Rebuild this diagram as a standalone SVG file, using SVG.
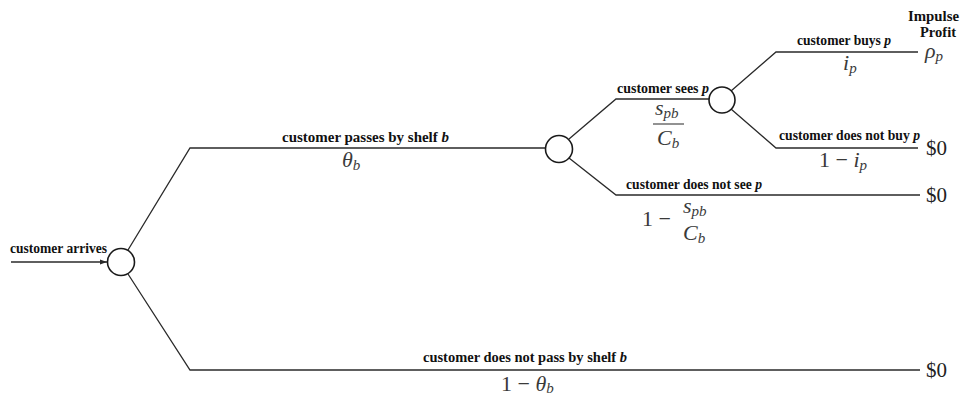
<svg xmlns="http://www.w3.org/2000/svg" width="962" height="397" viewBox="0 0 962 397">
<style>
.ln{fill:none;stroke:#2a2a2a;stroke-width:1.3}
.nd{fill:#fff;stroke:#1a1a1a;stroke-width:1.6}
.lb{font-family:"Liberation Serif",serif;font-weight:bold;font-size:14px;fill:#111}
.m{font-family:"Liberation Serif",serif;font-size:22px;fill:#3a3a3a;font-style:italic}
.mr{font-family:"Liberation Serif",serif;font-size:22px;fill:#3a3a3a}
.d{font-family:"Liberation Serif",serif;font-size:21px;fill:#222}
.sub{font-size:15px;font-style:italic}
.bar{stroke:#3a3a3a;stroke-width:1.1}
</style>
<defs>
<marker id="ah" viewBox="0 0 10 10" refX="10" refY="5" markerWidth="7" markerHeight="6" orient="auto" markerUnits="userSpaceOnUse" preserveAspectRatio="none"><path d="M0,1 L10,5 L0,9 z" fill="#2a2a2a"/></marker>
</defs>
<rect width="962" height="397" fill="#fff"/>
<g id="connectors">
<line class="ln" x1="11" y1="262" x2="107" y2="262" marker-end="url(#ah)"/>
<polyline class="ln" points="128,250 190,148 546,148"/>
<polyline class="ln" points="128,274 190,370 920,370"/>
<polyline class="ln" points="569,139 616,99 709,99"/>
<polyline class="ln" points="569,158 616,195 920,195"/>
<polyline class="ln" points="731,91 776,52 918,52"/>
<polyline class="ln" points="731,109 776,148 918,148"/>
</g>
<g id="n1"><circle class="nd" cx="121" cy="262" r="13.5"/><text class="lb" x="10" y="253" textLength="97" lengthAdjust="spacingAndGlyphs">customer arrives</text></g>
<g id="n2"><circle class="nd" cx="559" cy="149" r="13.5"/></g>
<g id="n3"><circle class="nd" cx="722" cy="100" r="13"/></g>
<g id="labels">
<text class="lb" x="282" y="142" textLength="167" lengthAdjust="spacingAndGlyphs">customer passes by shelf <tspan font-style="italic">b</tspan></text>
<text class="m" x="342" y="167">θ<tspan class="sub" dy="3">b</tspan></text>
<text class="lb" x="617" y="93" textLength="92" lengthAdjust="spacingAndGlyphs">customer sees <tspan font-style="italic">p</tspan></text>
<text class="m" x="655" y="115">s<tspan class="sub" dy="3">pb</tspan></text>
<line class="bar" x1="653" y1="124" x2="684" y2="124"/>
<text class="m" x="657" y="145">C<tspan class="sub" dy="3">b</tspan></text>
<text class="lb" x="626" y="189" textLength="136" lengthAdjust="spacingAndGlyphs">customer does not see <tspan font-style="italic">p</tspan></text>
<text class="mr" x="642" y="226">1 −</text>
<text class="m" x="683" y="213">s<tspan class="sub" dy="3">pb</tspan></text>
<text class="m" x="683" y="240">C<tspan class="sub" dy="3">b</tspan></text>
<text class="lb" x="797" y="45" textLength="94" lengthAdjust="spacingAndGlyphs">customer buys <tspan font-style="italic">p</tspan></text>
<text class="m" x="843" y="70">i<tspan class="sub" dy="3">p</tspan></text>
<text class="lb" x="779" y="140" textLength="141" lengthAdjust="spacingAndGlyphs">customer does not buy <tspan font-style="italic">p</tspan></text>
<text class="mr" x="819" y="167">1 − <tspan font-style="italic">i</tspan><tspan class="sub" dy="3">p</tspan></text>
<text class="lb" x="423" y="362" textLength="204" lengthAdjust="spacingAndGlyphs">customer does not pass by shelf <tspan font-style="italic">b</tspan></text>
<text class="mr" x="501" y="391">1 − <tspan font-style="italic">θ</tspan><tspan class="sub" dy="2">b</tspan></text>
<text class="lb" x="908" y="21" textLength="51" lengthAdjust="spacingAndGlyphs">Impulse</text>
<text class="lb" x="920" y="37" textLength="36" lengthAdjust="spacingAndGlyphs">Profit</text>
<text class="m" x="925" y="58">ρ<tspan class="sub" dy="3">p</tspan></text>
<text class="d" x="926" y="155">$0</text>
<text class="d" x="926" y="202">$0</text>
<text class="d" x="926" y="377">$0</text>
</g>
</svg>
